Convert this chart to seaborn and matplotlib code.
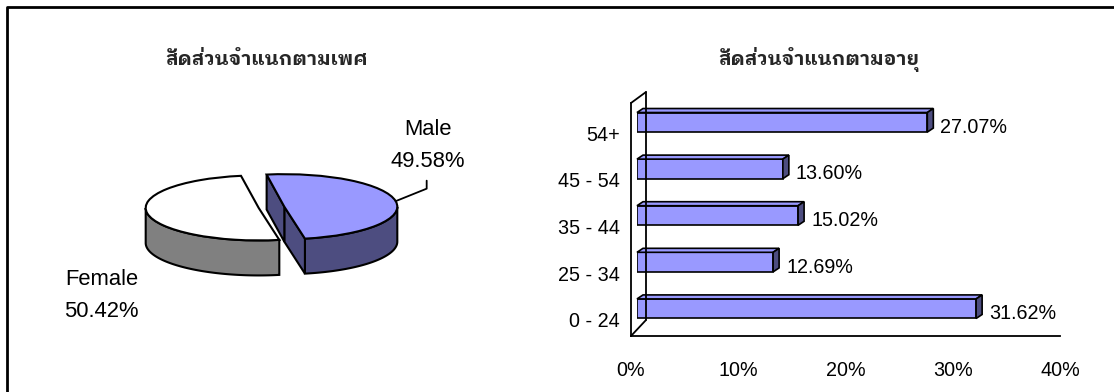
import matplotlib
matplotlib.use("Agg")
import numpy as np
import pandas as pd
import seaborn as sns
import matplotlib.pyplot as plt
from matplotlib.patches import Polygon
from matplotlib.lines import Line2D
from matplotlib.transforms import IdentityTransform

# ---- data -------------------------------------------------------------
gender_labels = ["Male", "Female"]
gender_share = [49.58, 50.42]
age_groups = ["54+", "45 - 54", "35 - 44", "25 - 34", "0 - 24"]
age_share = [27.07, 13.60, 15.02, 12.69, 31.62]
pct_ticks = [0, 10, 20, 30, 40]
title_gender = "สัดส่วนจำแนกตามเพศ"
title_age = "สัดส่วนจำแนกตามอายุ"

W, H, DPI = 1114, 392, 100
sns.set_theme(style="white")
plt.rcParams["font.family"] = ["Liberation Sans", "DejaVu Sans"]
THAI = ["IBM Plex Sans Thai Looped", "Sarabun", "DejaVu Sans"]

fig = plt.figure(figsize=(W / DPI, H / DPI), dpi=DPI, facecolor="white")


def box(left, top, right, bottom):
    """Axes rectangle from pixel edges measured from the top-left corner."""
    return [left / W, 1 - bottom / H, (right - left) / W, (bottom - top) / H]


def px_line(xs, ys, **kw):
    fig.add_artist(Line2D(list(xs), [H - y for y in ys],
                          transform=IdentityTransform(), **kw))


# outer frame
px_line([7, 7, W], [H, 7, 7], color="black", lw=2)

# ---- bar chart (3D look) ---------------------------------------------
df = pd.DataFrame({"group": age_groups, "share": age_share})
ax_front = fig.add_axes(box(631, 103, 1060, 336))   # front plane with the scales
ax_bar = fig.add_axes(box(637, 99, 1066, 332))      # bars, set back a little
ax_lab = fig.add_axes(box(631, 110, 1060, 343))     # category names

sns.barplot(data=df, y="group", x="share", order=age_groups, color="#9999FF",
            saturation=1, width=0.42, edgecolor="black", linewidth=1.2, ax=ax_bar)
for a in (ax_front, ax_bar, ax_lab):
    a.set_xlim(0, 40)
    a.set_ylim(len(age_groups) - 0.5, -0.5)
    a.patch.set_alpha(0)
ax_bar.axis("off")

# depth vector of the bars, in data units
p0 = ax_bar.transData.transform((0, 0))
p1 = ax_bar.transData.transform((1, 1))
ddx = 6 / (p1[0] - p0[0])
ddy = 4 / (p1[1] - p0[1])
for patch, v in zip(ax_bar.patches, age_share):
    x0, y0 = patch.get_x(), patch.get_y()
    w, h = patch.get_width(), patch.get_height()
    x1 = x0 + w
    top = [(x0, y0), (x1, y0), (x1 + ddx, y0 + ddy), (x0 + ddx, y0 + ddy)]
    side = [(x1, y0), (x1, y0 + h), (x1 + ddx, y0 + h + ddy), (x1 + ddx, y0 + ddy)]
    ax_bar.add_patch(Polygon(top, closed=True, fc="#9999FF", ec="black", lw=1.2, clip_on=False))
    ax_bar.add_patch(Polygon(side, closed=True, fc="#4D4D80", ec="black", lw=1.2, clip_on=False))
    ax_bar.annotate(f"{v:.2f}%", xy=(x1, y0 + h / 2), xytext=(13, -5),
                    textcoords="offset pixels", ha="left", va="center",
                    fontsize=14.2, color="black", annotation_clip=False)

# front plane axis
ax_front.set_xticks(pct_ticks, [f"{t}%" for t in pct_ticks])
ax_front.set_yticks(np.arange(len(age_groups) + 1) - 0.5, [])
for s in ("top", "right"):
    ax_front.spines[s].set_visible(False)
for s in ("left", "bottom"):
    ax_front.spines[s].set_color("black")
    ax_front.spines[s].set_linewidth(1.3)
ax_front.tick_params(axis="x", direction="out", length=4, width=1.3, color="black",
                     labelsize=14.2, pad=14, labelcolor="black")
ax_front.tick_params(axis="y", direction="out", length=4, width=1.3, color="black")

# category names sit slightly below the bar centres
for s in ax_lab.spines.values():
    s.set_visible(False)
ax_lab.set_xticks([])
ax_lab.set_yticks(range(len(age_groups)), age_groups)
ax_lab.tick_params(axis="y", length=0, pad=11 * 72 / DPI, labelsize=14.2, labelcolor="black")

# back wall and the edges joining it to the front plane
px_line([646, 646], [92, 320], color="black", lw=1.3)
px_line([631, 646], [103, 92], color="black", lw=1.3)
px_line([631, 646], [336, 320], color="black", lw=1.3)

# ---- pie chart (tilted, exploded) ------------------------------------
cx, cy = 271.5, 207.3       # pie centre in pixels
rx, ry = 113.0, 32.5        # pixels per data unit (horizontal / vertical)
depth = 35 / ry
pl, pt, pr, pb = 20, 90, 500, 330
ax_pie = fig.add_axes(box(pl, pt, pr, pb))
wedges, _ = ax_pie.pie(gender_share, startangle=99, counterclock=False,
                       explode=[0.115, 0.115], colors=["#9999FF", "white"],
                       wedgeprops=dict(edgecolor="black", linewidth=1.5, zorder=3))
ax_pie.set_aspect("auto")
ax_pie.set_xlim((pl - cx) / rx, (pr - cx) / rx)
ax_pie.set_ylim(-(pb - cy) / ry, (cy - pt) / ry)
ax_pie.axis("off")

side_colors = ["#4D4D80", "#808080"]
for wdg, sc in zip(wedges, side_colors):
    (ox, oy), r = wdg.center, wdg.r
    t1, t2 = wdg.theta1, wdg.theta2
    ts = np.linspace(t1, t2, 600)
    front = np.sin(np.radians(ts)) <= 0
    if front.any():
        tt = ts[front]
        xs = ox + r * np.cos(np.radians(tt))
        ys = oy + r * np.sin(np.radians(tt))
        poly = list(zip(xs, ys)) + list(zip(xs[::-1], ys[::-1] - depth))
        ax_pie.add_patch(Polygon(poly, closed=True, fc=sc, ec="black", lw=1.5, zorder=1))
    # cut faces that turn toward the viewer
    for ang, normal in ((t1, t1 - 90), (t2, t2 + 90)):
        if np.sin(np.radians(normal)) < 0:
            ex = ox + r * np.cos(np.radians(ang))
            ey = oy + r * np.sin(np.radians(ang))
            face = [(ox, oy), (ex, ey), (ex, ey - depth), (ox, oy - depth)]
            ax_pie.add_patch(Polygon(face, closed=True, fc=sc, ec="black", lw=1.5, zorder=1))

# slice labels
label_offsets = [(32, -56), (-46, 82)]
leaders = [True, False]
for wdg, lab, v, (dx, dy), lead in zip(wedges, gender_labels, gender_share, label_offsets, leaders):
    (ox, oy), r = wdg.center, wdg.r
    mid = np.radians((wdg.theta1 + wdg.theta2) / 2)
    d = ax_pie.transData.transform((ox + r * np.cos(mid), oy + r * np.sin(mid)))
    xp, yp = d[0], H - d[1]
    fig.text((xp + dx) / W, 1 - (yp + dy) / H, f"{lab}\n{v:.2f}%", ha="center", va="center",
             fontsize=15.8, linespacing=1.7, color="black")
    if lead:
        px_line([xp, xp + 31, xp + 31], [yp, yp - 12.5, yp - 20.5], color="black", lw=1.3)

# titles
fig.text(267 / W, 1 - 60 / H, title_gender, ha="center", va="center", fontsize=14,
         fontweight="bold", family=THAI)
fig.text(819 / W, 1 - 60 / H, title_age, ha="center", va="center", fontsize=14,
         fontweight="bold", family=THAI)

fig.savefig("out.png", dpi=DPI, facecolor="white")
